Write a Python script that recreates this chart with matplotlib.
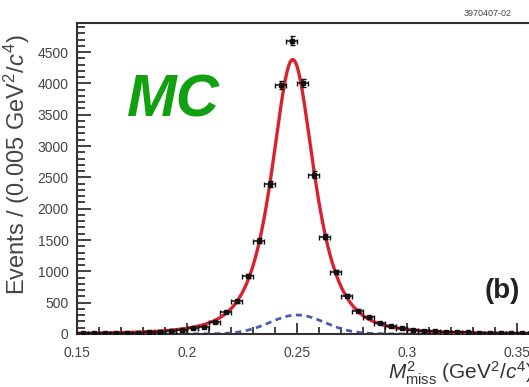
import numpy as np
import matplotlib.pyplot as plt
from matplotlib.ticker import MultipleLocator

plt.rcParams['font.family'] = ['Liberation Sans', 'DejaVu Sans']
plt.rcParams['mathtext.fontset'] = 'custom'
plt.rcParams['mathtext.rm'] = 'Liberation Sans'
plt.rcParams['mathtext.it'] = 'Liberation Sans:italic'

# ---------- binned MC sample (bin width 0.005 GeV^2/c^4) ----------
bin_centers = np.arange(0.1525, 0.36, 0.005)
counts = [10, 12, 14, 15, 18, 22, 28, 35, 45, 60,
          90, 117, 197, 346, 525, 930, 1490, 2395, 3980, 4680,
          4005, 2545, 1555, 990, 607, 372, 277, 170, 120, 90,
          65, 50, 42, 35, 30, 26, 22, 20, 18, 16,
          14, 13]

# ---------- fit parameters ----------
sig_amp, sig_mean, sig_gamma, sig_power = 4080, 0.2480, 0.015, 1.57   # Pearson VII signal
bkg_amp, bkg_mean, bkg_sigma = 303, 0.2501, 0.0125                    # broad background


def signal(x):
    return sig_amp / (1 + ((x - sig_mean) / sig_gamma) ** 2) ** sig_power


def background(x):
    return bkg_amp * np.exp(-0.5 * ((x - bkg_mean) / bkg_sigma) ** 2)


counts = np.array(counts, dtype=float)
xx = np.linspace(0.15, 0.36, 600)

fig = plt.figure(figsize=(5.29, 3.87), dpi=100)
ax = fig.add_axes([0.1456, 0.137, 0.8733, 0.803])

ax.plot(xx, background(xx), color='#4a5bb0', lw=2.0, ls=(0, (2.2, 1.6)), zorder=2)
ax.plot(xx, signal(xx) + background(xx), color='#d9222f', lw=2.4, zorder=3)
ax.errorbar(bin_centers, counts, xerr=0.0025, yerr=np.sqrt(counts),
            fmt='s', ms=2.2, color='#111111', ecolor='#111111',
            elinewidth=1.1, capsize=1.8, capthick=1.0, zorder=4)

ax.set_xlim(0.15, 0.36)
ax.set_ylim(0, 4960)

ax.xaxis.set_major_locator(MultipleLocator(0.05))
ax.xaxis.set_minor_locator(MultipleLocator(0.01))
ax.yaxis.set_major_locator(MultipleLocator(500))
ax.yaxis.set_minor_locator(MultipleLocator(100))
ax.tick_params(which='both', direction='in', top=False, right=False,
               colors='#222222', labelcolor='#444444', labelsize=10, width=1.2)
ax.tick_params(axis='y', which='major', length=10, pad=6)
ax.tick_params(axis='y', which='minor', length=6)
ax.tick_params(axis='x', which='major', length=8, pad=9)
ax.tick_params(axis='x', which='minor', length=5)
ax.set_xticklabels([f'{v:g}' for v in ax.get_xticks()])

for s in ['left', 'bottom', 'top']:
    ax.spines[s].set_linewidth(1.5)
    ax.spines[s].set_color('#333333')
ax.spines['right'].set_visible(False)

ax.set_ylabel('Events / (0.005 GeV$^2$/$c^4$)', fontsize=17, color='#444444')
ax.yaxis.set_label_coords(-0.098, 0.545)
fig.text(0.733, 0.035, r'$M^2_{\rm miss}$ (GeV$^2$/$c^4$)', fontsize=15,
         color='#333333', ha='left', va='center')

fig.text(0.327, 0.738, 'MC', fontsize=43, color='#10a010', fontstyle='italic',
         fontweight='bold', ha='center', va='center')
fig.text(0.949, 0.248, '(b)', fontsize=20, fontweight='bold', color='#222222',
         ha='center', va='center')
fig.text(0.877, 0.966, '3970407-02', fontsize=6.5, color='#444444',
         ha='left', va='center')

fig.savefig('out.png', dpi=100)
